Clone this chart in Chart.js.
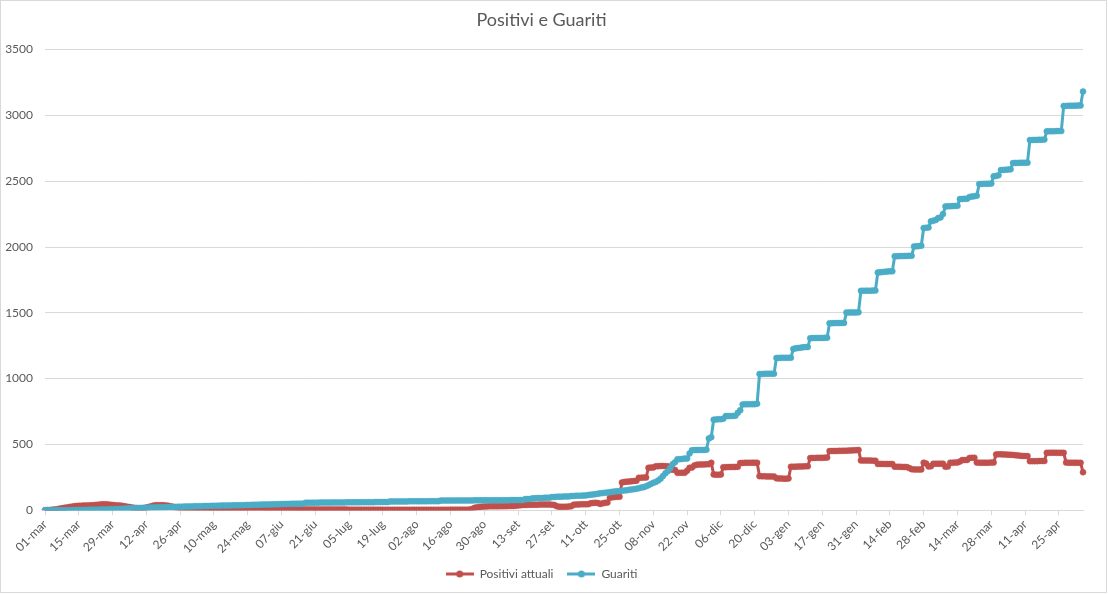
<!DOCTYPE html>
<html><head><meta charset="utf-8">
<script src="https://cdn.jsdelivr.net/npm/chart.js@4.4.0/dist/chart.umd.min.js"></script>
<style>html,body{margin:0;padding:0;background:#fff;} #wrap{width:1108px;height:594px;position:relative;}</style>
</head><body><div id="wrap"><canvas id="c" width="1108" height="594"></canvas></div>
<script>
const monthNames = ['gen','feb','mar','apr','mag','giu','lug','ago','set','ott','nov','dic'];
const tickEvery = 14;
const dayCount = 431;
const categories = [];
for (let i = 0; i < dayCount; i++) {
  const d = new Date(Date.UTC(2020, 2, 1 + i));
  categories.push(String(d.getUTCDate()).padStart(2, '0') + '-' + monthNames[d.getUTCMonth()]);
}
const yTicks = [0, 500, 1000, 1500, 2000, 2500, 3000, 3500];

const positivi = [
0,1,2,4,6,8,12,15,18,20,24,27,30,32,
33,34,35,35,36,37,38,40,42,44,45,45,44,42,
40,38,36,35,33,30,27,24,20,18,16,15,15,15,
20,25,30,35,38,38,38,38,36,34,30,26,22,18,
16,15,14,14,13,13,12,12,12,11,11,11,10,10,
10,10,10,10,9,9,9,9,9,9,9,10,10,10,
12,12,12,12,12,12,12,10,10,10,10,10,10,10,
8,8,8,8,8,8,8,6,6,6,6,6,6,6,
5,5,5,5,5,5,5,5,5,5,5,5,5,5,
4,4,4,4,4,4,4,4,4,4,4,4,4,4,
3,3,3,3,3,3,3,3,3,3,3,3,3,3,
3,3,3,3,3,3,3,3,3,3,3,3,3,3,
4,4,4,4,4,4,4,4,5,10,18,23,25,27,
28,29,30,30,30,30,30,31,31,31,32,32,32,34,
36,38,40,40,41,41,42,42,42,43,43,43,43,43,
42,40,30,27,26,26,27,28,30,42,44,44,45,45,
45,46,52,55,56,55,48,52,56,58,95,98,100,102,
102,210,215,217,218,220,222,223,246,247,248,248,322,324,
325,334,335,336,336,335,334,310,308,306,284,284,285,285,
300,322,324,340,346,347,348,348,349,350,360,272,270,270,
271,326,327,328,328,329,329,330,358,359,360,360,360,361,
361,360,259,258,258,257,257,256,256,242,241,241,240,240,
241,330,331,331,332,332,333,334,334,396,397,397,398,398,
398,399,400,449,450,450,450,451,451,452,452,453,454,455,
456,458,378,378,378,377,377,376,376,352,352,352,351,351,
351,351,330,330,330,329,329,328,320,312,310,310,309,310,
361,355,333,334,353,353,353,354,354,330,332,361,361,362,
362,370,381,381,382,397,398,398,362,361,361,361,361,361,
362,362,424,425,425,424,423,422,421,420,418,416,414,412,
412,411,373,373,373,373,374,374,374,436,436,437,437,436,
436,436,436,362,361,361,361,361,360,360,289
];

const guariti = [
0,0,0,0,0,0,0,0,0,0,0,0,1,1,
2,2,2,3,3,3,4,4,4,5,5,6,6,7,
8,8,9,10,11,12,13,14,15,15,16,17,17,18,
19,19,20,20,21,22,22,23,23,24,24,25,25,26,
27,27,28,28,29,29,30,30,31,31,32,32,32,33,
33,34,34,35,35,35,36,36,37,37,38,38,38,39,
40,40,41,41,42,42,43,43,44,44,45,45,46,46,
47,47,48,48,49,49,50,50,50,50,57,57,57,57,
57,57,58,58,58,58,58,59,59,59,59,59,59,60,
60,60,60,60,60,61,61,61,61,61,61,62,62,62,
62,62,62,67,67,67,67,67,67,67,67,68,68,68,
68,68,68,68,68,69,69,69,69,69,73,73,73,73,
73,73,73,74,74,74,74,74,74,74,75,75,75,75,
75,75,75,75,76,76,76,76,76,76,76,77,77,77,
77,77,77,85,85,85,90,90,92,92,92,95,95,95,
100,100,103,103,103,105,105,105,108,108,110,110,110,112,
112,115,118,120,122,125,128,130,132,135,137,140,142,145,
145,147,150,152,155,158,160,163,167,172,175,182,190,200,
208,215,225,240,260,280,297,320,350,365,388,388,390,392,
392,430,455,457,457,458,458,458,460,545,555,688,690,692,
692,695,715,715,716,716,718,740,759,804,805,805,806,806,
806,809,1035,1035,1036,1036,1037,1037,1037,1157,1157,1158,1158,1158,
1158,1159,1225,1230,1232,1235,1238,1240,1240,1307,1308,1308,1309,1309,
1309,1310,1310,1421,1421,1422,1422,1422,1423,1423,1502,1502,1503,1503,
1503,1504,1667,1667,1668,1668,1668,1669,1669,1806,1808,1810,1812,1814,
1815,1815,1930,1930,1931,1931,1932,1932,1933,1933,2004,2005,2007,2009,
2144,2146,2148,2195,2200,2205,2220,2225,2250,2308,2309,2310,2311,2312,
2313,2364,2365,2366,2367,2380,2383,2386,2390,2478,2479,2480,2480,2481,
2482,2537,2540,2545,2585,2586,2587,2588,2590,2638,2639,2639,2640,2640,
2640,2641,2813,2813,2814,2814,2815,2815,2816,2879,2879,2880,2880,2881,
2881,2881,3072,3072,3073,3073,3074,3074,3075,3075,3181
];

const RED = '#C0504D';
const BLUE = '#4BACC6';
const TEXT = '#595959';
const GRID = '#D9D9D9';
const FONT = 'Lato, "Open Sans", sans-serif';

function legendIcon(color) {
  const c = document.createElement('canvas');
  c.width = 28; c.height = 8;
  const g = c.getContext('2d');
  g.strokeStyle = color; g.lineWidth = 3;
  g.beginPath(); g.moveTo(0, 4); g.lineTo(28, 4); g.stroke();
  g.fillStyle = color;
  g.beginPath(); g.arc(14, 4, 3.5, 0, Math.PI * 2); g.fill();
  return c;
}

const frame = {
  id: 'frame',
  beforeDraw(chart) {
    const g = chart.ctx;
    g.save(); g.fillStyle = '#fff'; g.fillRect(0, 0, chart.width, chart.height); g.restore();
  },
  afterDraw(chart) {
    const g = chart.ctx;
    g.save(); g.strokeStyle = GRID; g.lineWidth = 1;
    g.strokeRect(0.5, 0.5, 1106, 592); g.restore();
  }
};

function ds(label, data, color, order) {
  return {
    label, data, order,
    borderColor: color, backgroundColor: color,
    borderWidth: 3, tension: 0,
    pointRadius: 3, pointBorderWidth: 0.5,
    pointBackgroundColor: color, pointBorderColor: color
  };
}

new Chart(document.getElementById('c'), {
  type: 'line',
  data: {
    labels: categories,
    datasets: [ds('Positivi attuali', positivi, RED, 1), ds('Guariti', guariti, BLUE, 0)]
  },
  options: {
    responsive: false, animation: false,
    layout: { padding: { left: 0, right: 25, top: 0, bottom: 4 } },
    plugins: {
      title: { display: true, text: 'Positivi e Guariti', color: TEXT,
        font: { family: FONT, size: 18, weight: 'normal' }, padding: { top: 9, bottom: 19 } },
      legend: { position: 'bottom',
        labels: { usePointStyle: true, pointStyleWidth: 28, color: TEXT,
          font: { family: FONT, size: 12 }, padding: 14,
          generateLabels: (chart) => chart.data.datasets.map((d, i) => ({
            text: d.label, pointStyle: legendIcon(d.borderColor),
            fillStyle: d.borderColor, strokeStyle: d.borderColor, lineWidth: 0,
            datasetIndex: i, hidden: false, fontColor: TEXT
          })) } },
      tooltip: { enabled: false }
    },
    scales: {
      x: {
        type: 'category', offset: false,
        afterFit: (s) => { s.height = s.height - 4; },
        grid: { display: true, drawOnChartArea: false, drawTicks: true, tickLength: 5, color: GRID },
        border: { display: true, color: GRID },
        ticks: { autoSkip: false, maxRotation: 45, minRotation: 45, color: TEXT,
          font: { family: FONT, size: 12 }, padding: 2,
          callback: (v, i) => (i % tickEvery === 0 ? categories[i] : null) }
      },
      y: {
        min: yTicks[0], max: yTicks[yTicks.length - 1],
        afterFit: (s) => { s.width = 45; },
        afterBuildTicks: (s) => { s.ticks = yTicks.map(v => ({ value: v })); },
        grid: { color: GRID, drawTicks: false },
        border: { display: false },
        ticks: { padding: 12, color: TEXT, font: { family: FONT, size: 12 },
          callback: (v) => String(v) }
      }
    }
  },
  plugins: [frame]
});
</script>
</body></html>
